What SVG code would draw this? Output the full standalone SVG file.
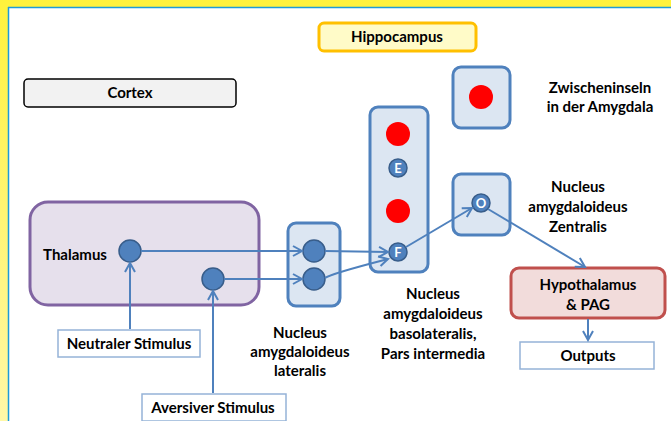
<svg xmlns="http://www.w3.org/2000/svg" width="671" height="421" viewBox="0 0 671 421">
<defs>
<marker id="ah" viewBox="0 0 14 14" refX="12" refY="7" markerWidth="14" markerHeight="14" markerUnits="userSpaceOnUse" orient="auto">
<polyline points="3,2 12,7 3,12" fill="none" stroke="#4f81bd" stroke-width="2"/>
</marker>
<linearGradient id="yg" x1="0" y1="0" x2="0" y2="1">
<stop offset="0" stop-color="#fff23c"/><stop offset="1" stop-color="#fff8a8"/>
</linearGradient>
</defs>
<style>
text{font-family:Lato,"Liberation Sans",Arial,sans-serif;font-size:15px;font-weight:bold;fill:#000;text-anchor:middle}
.box{fill:#dce6f2;stroke:#4f81bd;stroke-width:3}
.stim{fill:#fff;stroke:#95b3d7;stroke-width:1.5}
.n{fill:#4f81bd;stroke:#385d8a;stroke-width:1.5}
.r{fill:#ff0000}
.lt{fill:#fff;font-size:13px}
.c{fill:none;stroke:#4f81bd;stroke-width:2;marker-end:url(#ah)}
</style>
<rect x="0" y="0" width="671" height="421" fill="url(#yg)"/>
<rect x="8" y="7" width="663" height="414" fill="#fff"/>
<line x1="8" y1="7.5" x2="671" y2="7.5" stroke="#1e9bd7" stroke-width="1.5"/>
<line x1="8.5" y1="7" x2="8.5" y2="421" stroke="#1e9bd7" stroke-width="1.5"/>

<g id="hippocampus"><rect x="319" y="23" width="157" height="28" rx="5" fill="#fffbc8" stroke="#ffc000" stroke-width="3"/><text x="397" y="42">Hippocampus</text></g>
<g id="cortex"><rect x="24" y="79" width="212" height="28" rx="4" fill="#f2f2f2" stroke="#000" stroke-width="1.5"/><text x="130" y="98">Cortex</text></g>
<g id="zwischeninseln"><rect x="453" y="67" width="57" height="61" rx="8" class="box"/><circle cx="481" cy="97" r="12" class="r"/><text x="600" y="93">Zwischeninseln</text><text x="600" y="112">in der Amygdala</text></g>
<g id="basolateralis"><rect x="370" y="107" width="58" height="165" rx="8" class="box"/><circle cx="398" cy="134" r="12" class="r"/><circle cx="398" cy="168" r="9" class="n"/><text x="398" y="172.5" class="lt">E</text><circle cx="398" cy="211" r="12" class="r"/><circle cx="398" cy="252" r="9" class="n"/><text x="398" y="256.5" class="lt">F</text>
<text x="433" y="299">Nucleus</text><text x="433" y="319">amygdaloideus</text><text x="433" y="339">basolateralis,</text><text x="433" y="359">Pars intermedia</text></g>
<g id="zentralis"><rect x="453" y="174" width="57" height="61" rx="8" class="box"/><circle cx="481" cy="203" r="9" class="n"/><text x="481" y="207.5" class="lt">O</text><text x="578" y="192">Nucleus</text><text x="578" y="212">amygdaloideus</text><text x="578" y="232">Zentralis</text></g>
<g id="thalamus"><rect x="30" y="202" width="229" height="103" rx="18" fill="#e6e0ec" stroke="#8064a2" stroke-width="3"/><text x="75" y="260">Thalamus</text><circle cx="130" cy="251" r="11" class="n"/><circle cx="213" cy="279" r="11" class="n"/></g>
<g id="lateralis"><rect x="288" y="223" width="52" height="83" rx="8" class="box"/><circle cx="314" cy="251" r="11" class="n"/><circle cx="314" cy="279" r="11" class="n"/><text x="300" y="338">Nucleus</text><text x="300" y="357">amygdaloideus</text><text x="300" y="376">lateralis</text></g>
<g id="hypothalamus"><rect x="511" y="268" width="154" height="50" rx="8" fill="#f2dcdb" stroke="#c0504d" stroke-width="3"/><text x="588" y="290">Hypothalamus</text><text x="588" y="310">&amp; PAG</text></g>
<g id="outputs"><rect x="520" y="342" width="134" height="27" class="stim"/><text x="588" y="361">Outputs</text></g>
<g id="neutral"><rect x="58" y="330" width="142" height="27" class="stim"/><text x="129" y="349">Neutraler Stimulus</text></g>
<g id="aversiv"><rect x="142" y="394" width="144" height="27" class="stim"/><text x="213" y="413">Aversiver Stimulus</text></g>

<g id="connectors">
<line x1="130" y1="329" x2="130" y2="263" class="c"/>
<line x1="213" y1="393" x2="213" y2="291" class="c"/>
<line x1="141" y1="251" x2="302" y2="251" class="c"/>
<line x1="224" y1="279" x2="302" y2="279" class="c"/>
<line x1="325" y1="251" x2="388" y2="252" class="c"/>
<path d="M325,278 Q330,274 388,259" class="c"/>
<line x1="406" y1="247" x2="472" y2="208" class="c"/>
<line x1="488" y1="209" x2="585" y2="267" class="c"/>
<line x1="588" y1="319" x2="588" y2="340" class="c"/>
</g>
</svg>
